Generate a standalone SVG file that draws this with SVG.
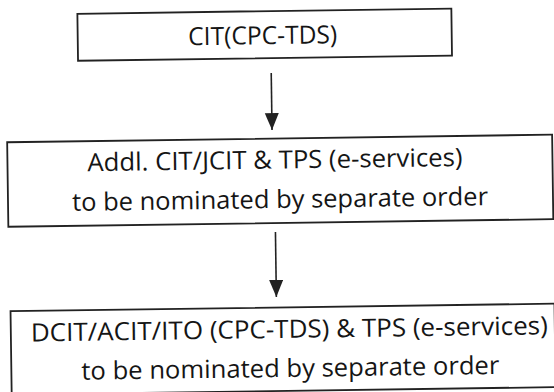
<svg xmlns="http://www.w3.org/2000/svg" width="554" height="392" viewBox="0 0 554 392">
  <style>
    .box { fill: #ffffff; stroke: #222222; stroke-width: 1.8; }
    .lbl { font-family: "Open Sans", "Liberation Sans", sans-serif; font-size: 25px; fill: #151515; text-anchor: middle; }
    .conn { stroke: #222222; stroke-width: 1.6; fill: none; }
  </style>
  <defs>
    <marker id="arrow" markerUnits="userSpaceOnUse" markerWidth="18" markerHeight="15" refX="17" refY="7" orient="auto">
      <path d="M0,0 L17,7 L0,14 Z" fill="#222222"/>
    </marker>
  </defs>
  <rect width="554" height="392" fill="#ffffff"/>
  <g transform="rotate(-0.8 277 200)">
    <g id="node-cit">
      <rect class="box" x="80" y="11" width="374" height="47"/>
      <text class="lbl" x="265" y="44" textLength="149" lengthAdjust="spacingAndGlyphs">CIT(CPC-TDS)</text>
    </g>
    <g id="node-addl-cit">
      <rect class="box" x="8" y="138.5" width="545" height="84.5"/>
      <text class="lbl" x="275.5" y="168.5" textLength="375" lengthAdjust="spacingAndGlyphs">Addl. CIT/JCIT &amp; TPS (e-services)</text>
      <text class="lbl" x="280" y="208" textLength="416" lengthAdjust="spacingAndGlyphs">to be nominated by separate order</text>
    </g>
    <g id="node-dcit">
      <rect class="box" x="9" y="307.5" width="544" height="83.5"/>
      <text class="lbl" x="287.5" y="338" textLength="517" lengthAdjust="spacingAndGlyphs">DCIT/ACIT/ITO (CPC-TDS) &amp; TPS (e-services)</text>
      <text class="lbl" x="288" y="377" textLength="418" lengthAdjust="spacingAndGlyphs">to be nominated by separate order</text>
    </g>
    <g id="connectors">
      <line class="conn" x1="273" y1="73" x2="273" y2="130" marker-end="url(#arrow)"/>
      <line class="conn" x1="275" y1="232" x2="275" y2="297" marker-end="url(#arrow)"/>
    </g>
  </g>
</svg>
